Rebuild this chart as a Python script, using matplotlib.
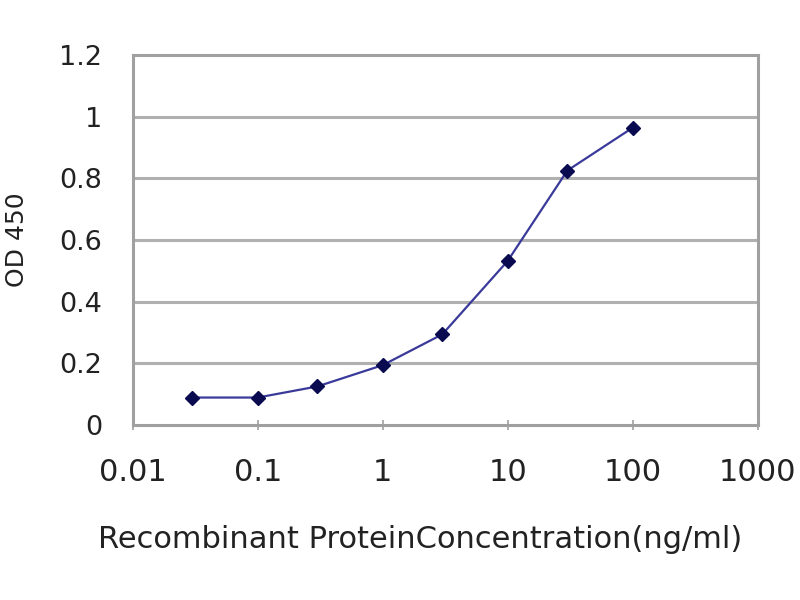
import matplotlib
matplotlib.use("Agg")
import matplotlib.pyplot as plt
from matplotlib.ticker import FixedLocator, NullLocator, FixedFormatter

conc = [0.03, 0.1, 0.3, 1, 3, 10, 30, 100]
od450 = [0.089, 0.089, 0.125, 0.194, 0.294, 0.532, 0.825, 0.964]
xticks = [0.01, 0.1, 1, 10, 100, 1000]
xticklabels = ["0.01", "0.1", "1", "10", "100", "1000"]
yticks = [0, 0.2, 0.4, 0.6, 0.8, 1.0, 1.2]
yticklabels = ["0", "0.2", "0.4", "0.6", "0.8", "1", "1.2"]

plt.rcParams['font.family'] = ['DejaVu Sans']

fig = plt.figure(figsize=(8, 6), dpi=100)
ax = fig.add_axes([0.166, 0.2917, 0.781, 0.6167])
ax.set_xscale('log')
ax.set_xlim(0.01, 1000)
ax.set_ylim(0, 1.2)

for y in yticks[1:-1]:
    ax.axhline(y, color='#b0b0b0', lw=2.2, zorder=1)

ax.plot(conc, od450, color='#3a3a9a', lw=1.6, marker='D', markersize=7,
        markerfacecolor='#0a0a50', markeredgecolor='#0a0a50', zorder=3)

ax.xaxis.set_major_locator(FixedLocator(xticks))
ax.xaxis.set_major_formatter(FixedFormatter(xticklabels))
ax.xaxis.set_minor_locator(NullLocator())
ax.set_yticks(yticks)
ax.set_yticklabels(yticklabels)

for s in ax.spines.values():
    s.set_color('#a0a0a0')
    s.set_linewidth(2.2)

ax.tick_params(axis='x', direction='inout', length=7, width=1.2, color='#a0a0a0',
               labelsize=22, pad=20, labelcolor='#222222')
ax.tick_params(axis='y', direction='out', length=0, labelsize=19.5, pad=22, labelcolor='#222222')

ax.set_xlabel('Recombinant ProteinConcentration(ng/ml)', fontsize=22, color='#222222',
              va='center', ha='center')
ax.xaxis.set_label_coords(0.46, -0.31)
ax.set_ylabel('OD 450', fontsize=18, color='#222222', labelpad=22)

fig.savefig('out.png', dpi=100)
